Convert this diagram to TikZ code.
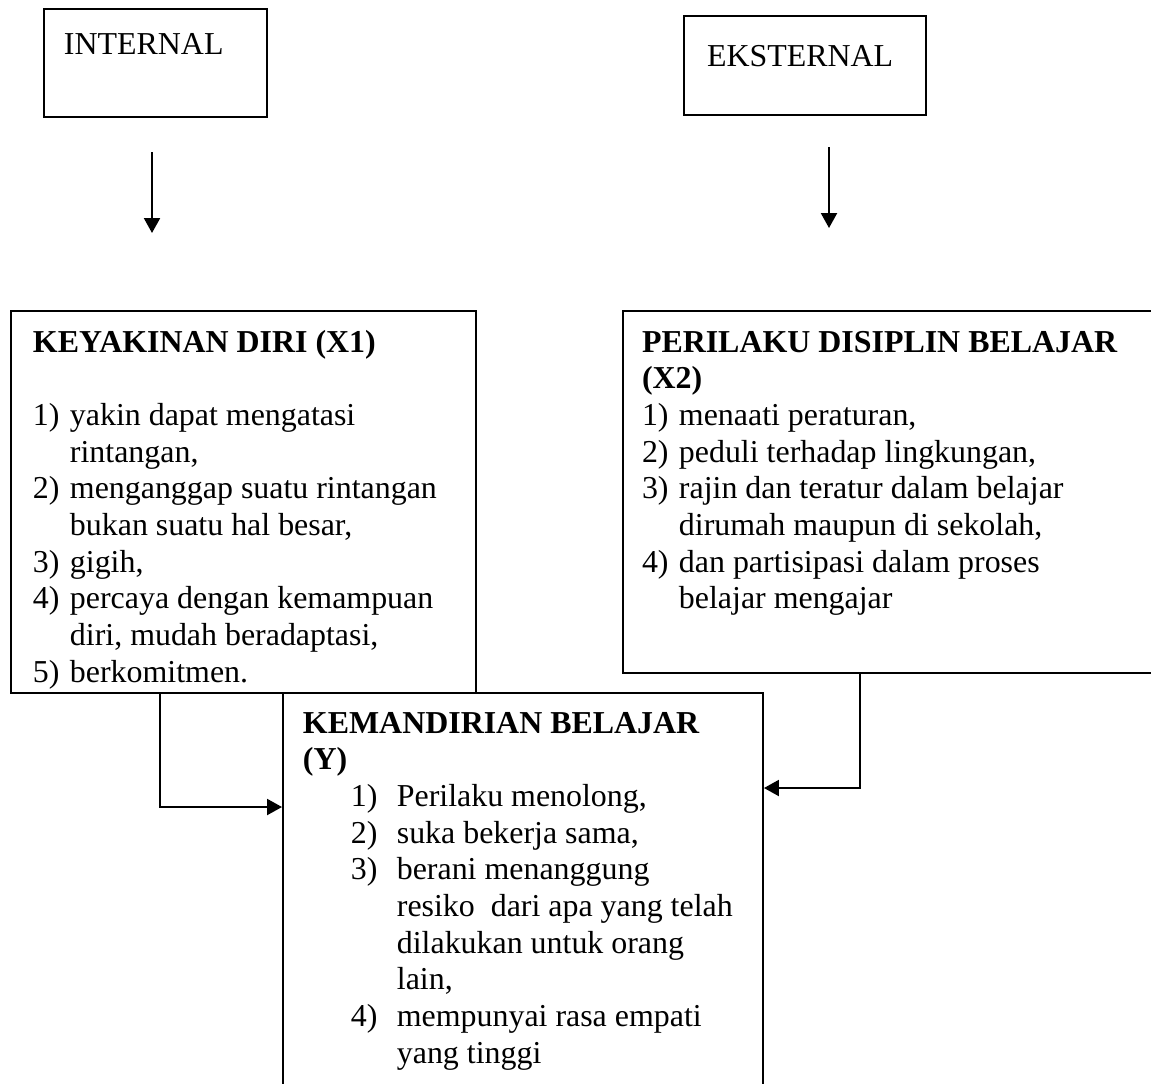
\documentclass[tikz,border=0pt]{standalone}
\usepackage{fontspec}
\setmainfont{Liberation Serif}
\usetikzlibrary{arrows.meta,fit}
\begin{document}
\begin{tikzpicture}[x=0.376pt,y=-0.376pt,line width=0.75pt,
		font=\fontsize{12}{13.8}\selectfont,
		>={Triangle[length=5.6pt,width=6pt]},
		box/.style={draw,inner sep=0pt,fit={#1}},
		txt/.style={anchor=base west,inner sep=0pt}]
	\useasboundingbox (0,0) rectangle (1151,1084);
	\clip (0,0) rectangle (1151,1084);
	\path
	(152,152) coordinate (ia)
	(152,233) coordinate (ib)
	(829,147) coordinate (ea)
	(829,228) coordinate (eb)
	(160,807) coordinate (lj)
	(860,788) coordinate (rj)
	;
	\node[box={(44,9)(267,117)}] (intern) {};
	\node[box={(684,16)(926,115)}] (ekstern) {};
	\node[box={(11,311)(476,693)}] (x1) {};
	\node[box={(623,311)(1170,673)}] (x2) {};
	\node[box={(283,693)(763,1110)}] (yb) {};
	\node[txt] (interntxt) at (63,54) {INTERNAL};
	\node[txt] (eksterntxt) at (706,66) {EKSTERNAL};
	\node[txt] (x1txt) at (32,352) {\begin{tabular}[t]{@{}p{13.9pt}@{}l@{}}
			\multicolumn{2}{@{}l@{}}{\bfseries KEYAKINAN DIRI (X1)}\\
			\\
			1) & yakin dapat mengatasi\\
			& rintangan,\\
			2) & menganggap suatu rintangan\\
			& bukan suatu hal besar,\\
			3) & gigih,\\
			4) & percaya dengan kemampuan\\
			& diri, mudah beradaptasi,\\
			5) & berkomitmen.
		\end{tabular}};
	\node[txt] (x2txt) at (641,352) {\begin{tabular}[t]{@{}p{13.9pt}@{}l@{}}
			\multicolumn{2}{@{}l@{}}{\bfseries PERILAKU DISIPLIN BELAJAR}\\
			\multicolumn{2}{@{}l@{}}{\bfseries (X2)}\\
			1) & menaati peraturan,\\
			2) & peduli terhadap lingkungan,\\
			3) & rajin dan teratur dalam belajar\\
			& dirumah maupun di sekolah,\\
			4) & dan partisipasi dalam proses\\
			& belajar mengajar
		\end{tabular}};
	\node[txt] (ytxt) at (302,733) {\begin{tabular}[t]{@{}p{18pt}@{}p{17.3pt}@{}l@{}}
			\multicolumn{3}{@{}l@{}}{\bfseries KEMANDIRIAN BELAJAR}\\
			\multicolumn{3}{@{}l@{}}{\bfseries (Y)}\\
			& 1) & Perilaku menolong,\\
			& 2) & suka bekerja sama,\\
			& 3) & berani menanggung\\
			& & resiko\ \ dari apa yang telah\\
			& & dilakukan untuk orang\\
			& & lain,\\
			& 4) & mempunyai rasa empati\\
			& & yang tinggi
		\end{tabular}};
	\draw[->] (ia)--(ib);
	\draw[->] (ea)--(eb);
	\draw[->] (x1.south -| lj) |- (yb.west |- lj);
	\draw[->] (x2.south -| rj) |- (yb.east |- rj);
\end{tikzpicture}
\end{document}
